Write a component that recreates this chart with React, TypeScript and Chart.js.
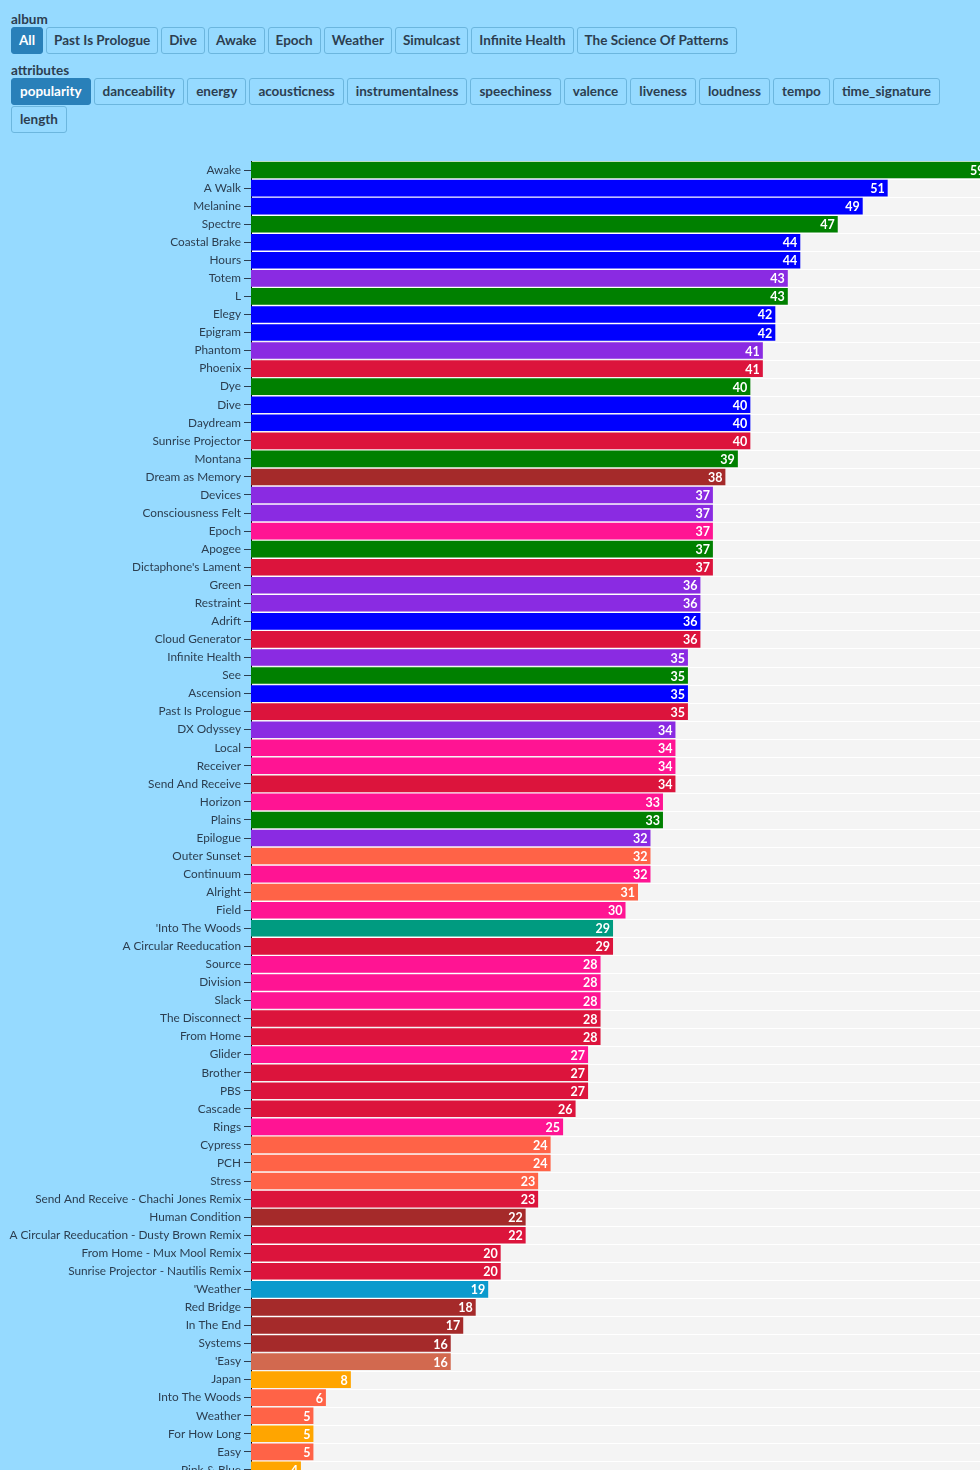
import React, { useEffect, useRef } from "react";
import { Chart, registerables } from "chart.js";

Chart.register(...registerables);

const albumButtons = ["All", "Past Is Prologue", "Dive", "Awake", "Epoch", "Weather", "Simulcast", "Infinite Health", "The Science Of Patterns"];
const attributeButtons = ["popularity", "danceability", "energy", "acousticness", "instrumentalness", "speechiness", "valence", "liveness", "loudness", "tempo", "time_signature", "length"];

const songs = [
  "Awake", "A Walk", "Melanine", "Spectre", "Coastal Brake", "Hours", "Totem", "L", "Elegy", "Epigram",
  "Phantom", "Phoenix", "Dye", "Dive", "Daydream", "Sunrise Projector", "Montana", "Dream as Memory", "Devices", "Consciousness Felt",
  "Epoch", "Apogee", "Dictaphone's Lament", "Green", "Restraint", "Adrift", "Cloud Generator", "Infinite Health", "See", "Ascension",
  "Past Is Prologue", "DX Odyssey", "Local", "Receiver", "Send And Receive", "Horizon", "Plains", "Epilogue", "Outer Sunset", "Continuum",
  "Alright", "Field", "'Into The Woods", "A Circular Reeducation", "Source", "Division", "Slack", "The Disconnect", "From Home", "Glider",
  "Brother", "PBS", "Cascade", "Rings", "Cypress", "PCH", "Stress", "Send And Receive - Chachi Jones Remix", "Human Condition", "A Circular Reeducation - Dusty Brown Remix",
  "From Home - Mux Mool Remix", "Sunrise Projector - Nautilis Remix", "'Weather", "Red Bridge", "In The End", "Systems", "'Easy", "Japan", "Into The Woods", "Weather",
  "For How Long", "Easy", "Pink & Blue",
];

const popularity = [
  59, 51, 49, 47, 44, 44, 43, 43, 42, 42,
  41, 41, 40, 40, 40, 40, 39, 38, 37, 37,
  37, 37, 37, 36, 36, 36, 36, 35, 35, 35,
  35, 34, 34, 34, 34, 33, 33, 32, 32, 32,
  31, 30, 29, 29, 28, 28, 28, 28, 28, 27,
  27, 27, 26, 25, 24, 24, 23, 23, 22, 22,
  20, 20, 19, 18, 17, 16, 16, 8, 6, 5,
  5, 5, 4,
];

const songAlbums = [
  "Awake", "Dive", "Dive", "Awake", "Dive", "Dive", "Infinite Health", "Awake", "Dive", "Dive",
  "Infinite Health", "Past Is Prologue", "Awake", "Dive", "Dive", "Past Is Prologue", "Awake", "The Science Of Patterns", "Infinite Health", "Infinite Health",
  "Epoch", "Awake", "Past Is Prologue", "Infinite Health", "Infinite Health", "Dive", "Past Is Prologue", "Infinite Health", "Awake", "Dive",
  "Past Is Prologue", "Infinite Health", "Epoch", "Epoch", "Past Is Prologue", "Epoch", "Awake", "Infinite Health", "Weather", "Epoch",
  "Weather", "Epoch", "Single A", "Past Is Prologue", "Epoch", "Epoch", "Epoch", "Past Is Prologue", "Past Is Prologue", "Epoch",
  "Past Is Prologue", "Past Is Prologue", "Past Is Prologue", "Epoch", "Weather", "Weather", "Weather", "Past Is Prologue", "The Science Of Patterns", "Past Is Prologue",
  "Past Is Prologue", "Past Is Prologue", "Single B", "The Science Of Patterns", "The Science Of Patterns", "The Science Of Patterns", "Single C", "Simulcast", "Weather", "Weather",
  "Simulcast", "Weather", "Simulcast",
];

const albumColors: Record<string, string> = {
  "Past Is Prologue": "#dc143c",
  "Dive": "#0000ff",
  "Awake": "#008000",
  "Epoch": "#ff1493",
  "Weather": "#ff6347",
  "Simulcast": "#ffa500",
  "Infinite Health": "#8a2be2",
  "The Science Of Patterns": "#a52a2a",
  "Single A": "#009b80",
  "Single B": "#0a9acd",
  "Single C": "#d2694f",
};

const FONT = "Lato, 'Source Sans Pro', sans-serif";
const TEXT = "#2c3e50";

const bgPlugin = {
  id: "plotBg",
  beforeDraw(chart: any) {
    const { ctx, chartArea } = chart;
    if (!chartArea) return;
    ctx.save();
    ctx.fillStyle = "#f4f4f4";
    ctx.fillRect(chartArea.left, chartArea.top, chartArea.right - chartArea.left, chartArea.bottom - chartArea.top);
    const y = chart.scales.y;
    const n = chart.data.labels.length;
    ctx.strokeStyle = "#ffffff";
    ctx.lineWidth = 1;
    for (let i = 0; i <= n; i++) {
      const yy = y.getPixelForValue(i - 0.5);
      ctx.beginPath();
      ctx.moveTo(chartArea.left, Math.round(yy) + 0.5);
      ctx.lineTo(chartArea.right, Math.round(yy) + 0.5);
      ctx.stroke();
    }
    ctx.restore();
  },
};

const labelPlugin = {
  id: "valueLabels",
  afterDatasetsDraw(chart: any) {
    const { ctx } = chart;
    const meta = chart.getDatasetMeta(0);
    ctx.save();
    ctx.font = `bold 12.5px ${FONT}`;
    ctx.fillStyle = "#ffffff";
    ctx.textAlign = "right";
    ctx.textBaseline = "middle";
    meta.data.forEach((bar: any, i: number) => {
      const v = chart.data.datasets[0].data[i];
      ctx.fillText(String(v), bar.x - 3, bar.y + 1);
    });
    ctx.restore();
  },
};

function Btn({ label, active, pad }: { label: string; active?: boolean; pad: number }) {
  return (
    <span
      style={{
        display: "inline-block",
        boxSizing: "border-box",
        height: 27,
        lineHeight: "25px",
        padding: `0 ${pad}px`,
        marginRight: 3,
        marginBottom: 1,
        border: active ? "1px solid #2980b9" : "1px solid #6cb6de",
        borderRadius: 3,
        background: active ? "#2980b9" : "transparent",
        color: active ? "#ffffff" : TEXT,
        fontWeight: 700,
        fontSize: 13.5,
        fontFamily: FONT,
        verticalAlign: "top",
      }}
    >
      {label}
    </span>
  );
}

export default function App() {
  const ref = useRef<HTMLCanvasElement | null>(null);

  useEffect(() => {
    document.body.style.background = "#96daff";
    const canvas = ref.current;
    if (!canvas) return;
    const chart = new Chart(canvas, {
      type: "bar",
      data: {
        labels: songs,
        datasets: [
          {
            data: popularity,
            backgroundColor: songAlbums.map((a) => albumColors[a]),
            barPercentage: 0.92,
            categoryPercentage: 1,
          },
        ],
      },
      options: {
        indexAxis: "y",
        animation: false,
        responsive: false,
        maintainAspectRatio: false,
        layout: { padding: { top: 21, bottom: 10, left: 0, right: 0 } },
        plugins: { legend: { display: false }, tooltip: { enabled: false } },
        scales: {
          x: { display: false, min: 0, max: 62 },
          y: {
            afterFit(scale: any) {
              scale.width = 243;
            },
            border: { display: true, color: "#000000", width: 1 },
            grid: { drawOnChartArea: false, tickLength: 7, tickColor: TEXT, offset: false },
            ticks: { color: TEXT, padding: 3, autoSkip: false, font: { family: FONT, size: 11.8 } },
          },
        },
      },
      plugins: [bgPlugin, labelPlugin],
    });
    return () => chart.destroy();
  }, []);

  return (
    <div style={{ fontFamily: FONT, color: TEXT }}>
      <div style={{ marginLeft: 3 }}>
        <div style={{ fontWeight: 700, fontSize: 13.5, lineHeight: "16px", marginTop: 3 }}>album</div>
        <div style={{ height: 27, marginTop: 0, whiteSpace: "nowrap" }}>
          {albumButtons.map((b, i) => (
            <Btn key={b} label={b} active={i === 0} pad={7} />
          ))}
        </div>
        <div style={{ fontWeight: 700, fontSize: 13.5, lineHeight: "16px", marginTop: 8 }}>attributes</div>
        <div style={{ width: 940, marginTop: 0 }}>
          {attributeButtons.map((b, i) => (
            <Btn key={b} label={b} active={i === 0} pad={8} />
          ))}
        </div>
      </div>
      <div style={{ position: "absolute", left: 8, top: 140, width: 1017, height: 1349 }}>
        <canvas ref={ref} width={1017} height={1349} style={{ display: "block", width: 1017, height: 1349 }} />
      </div>
    </div>
  );
}
